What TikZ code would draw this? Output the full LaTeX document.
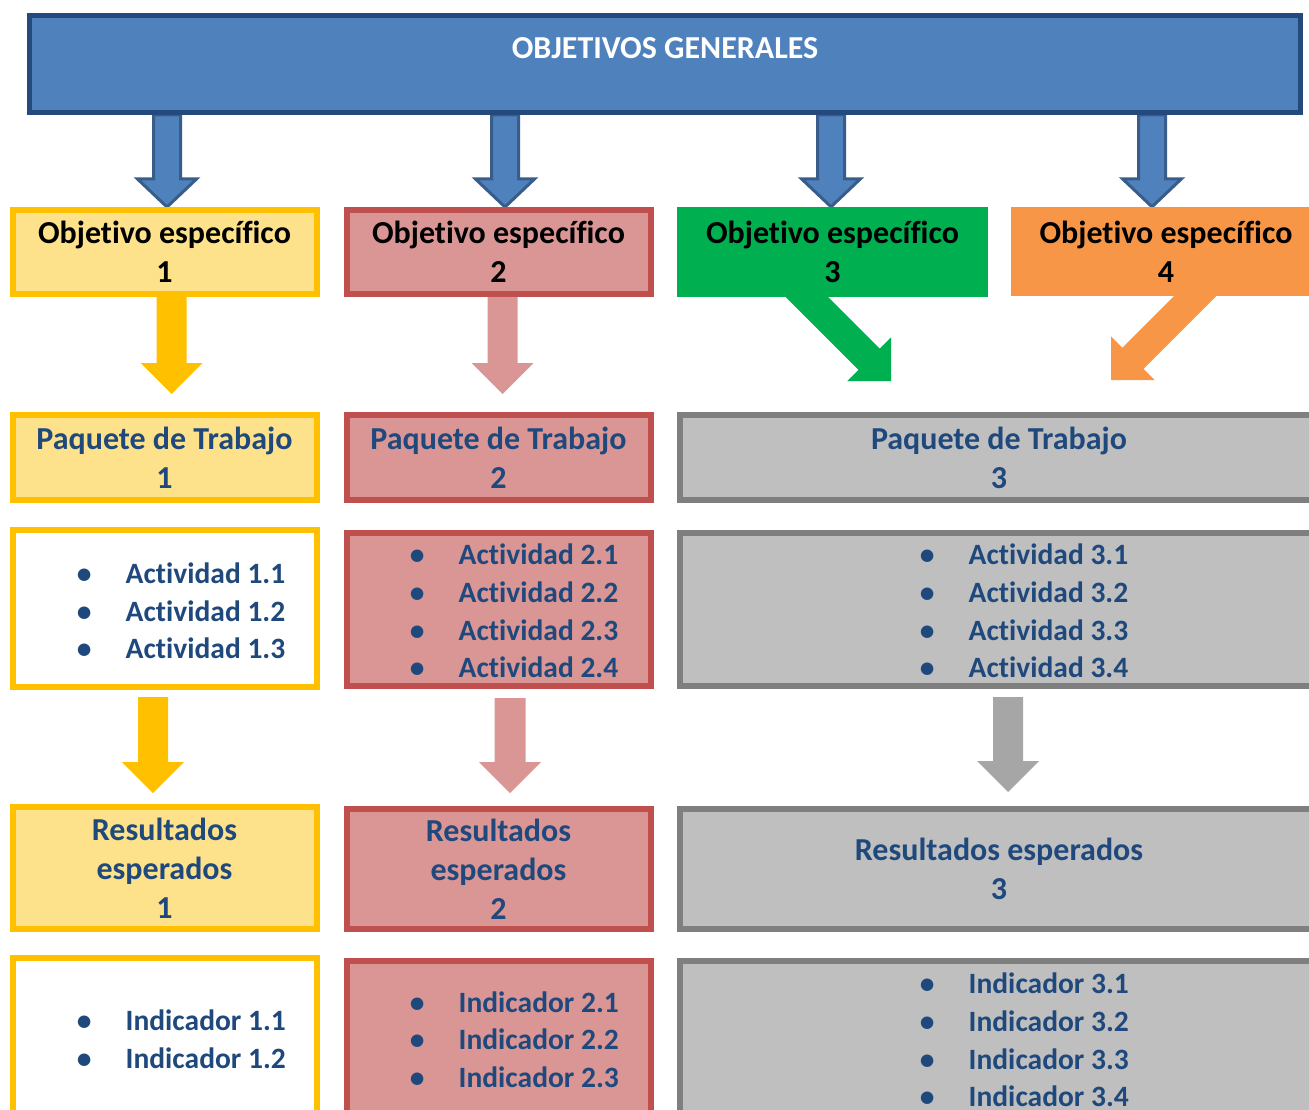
\documentclass[tikz,border=0pt]{standalone}
\usepackage{fontspec}
\setmainfont{Carlito}[Ligatures=NoCommon]
\usetikzlibrary{calc,backgrounds}

\definecolor{azul}{HTML}{4F81BD}
\definecolor{azulosc}{HTML}{244A7D}
\definecolor{azulbor}{HTML}{385D8A}
\definecolor{amarillo}{HTML}{FFC000}
\definecolor{amarclaro}{HTML}{FDE28B}
\definecolor{rojo}{HTML}{C0504D}
\definecolor{rojoclaro}{HTML}{D99694}
\definecolor{gris}{HTML}{BFBFBF}
\definecolor{grisosc}{HTML}{7F7F7F}
\definecolor{grisflecha}{HTML}{A6A6A6}
\definecolor{verde}{HTML}{00B050}
\definecolor{naranja}{HTML}{F79646}
\definecolor{texto}{HTML}{1F497D}

\tikzset{
  caja/.style={rectangle, inner sep=2pt, align=center, text=texto,
    font=\bfseries\fontsize{32}{39}\selectfont},
  amar/.style={caja, line width=6pt, draw=amarillo, fill=amarclaro},
  roja/.style={caja, line width=6pt, draw=rojo, fill=rojoclaro},
  grisc/.style={caja, line width=6pt, draw=grisosc, fill=gris},
  lista/.style={inner sep=0pt, align=left, anchor=west, text=texto,
    font=\bfseries\fontsize{29.5}{37.7}\selectfont},
  fazul/.style={fill=azul, draw=azulbor, line width=3pt},
}
\newcommand{\pto}{\makebox[14pt][c]{•}\hspace{34.5pt}}

% flecha de bloque: estilo, inicio, punta, medio ancho, media cabeza, largo cabeza
\newcommand{\flecha}[6]{%
  \coordinate (hb) at ($(#3)!#6!(#2)$);
  \path[#1] ($(#2)!#4!90:(#3)$) -- ($(hb)!#4!90:(#3)$) -- ($(hb)!#5!90:(#3)$) -- (#3)
    -- ($(hb)!#5!-90:(#3)$) -- ($(hb)!#4!-90:(#3)$) -- ($(#2)!#4!-90:(#3)$) -- cycle;}

\begin{document}
\begin{tikzpicture}[x=1pt, y=-1pt]
  \useasboundingbox (0,0) rectangle (1309,1110);
  \clip (0,0) rectangle (1309,1110);

  \node[caja, line width=5pt, draw=azulosc, fill=azul, minimum width=1271pt, minimum height=97pt] (gen) at (665,64) {};
  \node[text=white, font=\bfseries\fontsize{32}{38}\selectfont] (titulo) at (665,48) {OBJETIVOS GENERALES};

  % objetivos especificos
  \node[amar, text=black, minimum width=304pt, minimum height=84pt] (o1) at (164.5,252) {Objetivo específico\\1};
  \node[roja, text=black, minimum width=304pt, minimum height=84pt] (o2) at (498.5,252) {Objetivo específico\\2};
  \node[caja, text=black, fill=verde, minimum width=311pt, minimum height=90pt] (o3) at (832.5,252) {Objetivo específico\\3};
  \node[caja, text=black, fill=naranja, minimum width=310pt, minimum height=89pt] (o4) at (1166,251.5) {Objetivo específico\\4};

  % paquetes de trabajo
  \node[amar, minimum width=304pt, minimum height=85pt] (p1) at (164.5,457.5) {Paquete de Trabajo\\1};
  \node[roja, minimum width=304pt, minimum height=85pt] (p2) at (498.5,457.5) {Paquete de Trabajo\\2};
  \node[grisc, minimum width=638pt, minimum height=85pt] (p3) at (999,457.5) {Paquete de Trabajo\\3};

  % actividades
  \node[amar, fill=white, minimum width=304pt, minimum height=157pt] (a1) at (164.5,608) {};
  \node[roja, minimum width=304pt, minimum height=153pt] (a2) at (498.5,609.5) {};
  \node[grisc, minimum width=638pt, minimum height=153pt] (a3) at (999,609.5) {};
  \node[lista] (la1) at (77,611) {\pto Actividad 1.1\\\pto Actividad 1.2\\\pto Actividad 1.3};
  \node[lista] (la2) at (410,611) {\pto Actividad 2.1\\\pto Actividad 2.2\\\pto Actividad 2.3\\\pto Actividad 2.4};
  \node[lista] (la3) at (920,611) {\pto Actividad 3.1\\\pto Actividad 3.2\\\pto Actividad 3.3\\\pto Actividad 3.4};

  % resultados
  \node[amar, minimum width=304pt, minimum height=122pt] (r1) at (164.5,868) {Resultados\\esperados\\1};
  \node[roja, minimum width=304pt, minimum height=120pt] (r2) at (498.5,869) {Resultados\\esperados\\2};
  \node[grisc, minimum width=638pt, minimum height=120pt] (r3) at (999,869) {Resultados esperados\\3};

  % indicadores
  \node[amar, fill=white, minimum width=304pt, minimum height=164pt] (i1) at (164.5,1040) {};
  \node[roja, minimum width=304pt, minimum height=161pt] (i2) at (498.5,1041.5) {};
  \node[grisc, minimum width=638pt, minimum height=161pt] (i3) at (999,1041.5) {};
  \node[lista] (li1) at (77,1039.5) {\pto Indicador 1.1\\\pto Indicador 1.2};
  \node[lista] (li2) at (410,1039.5) {\pto Indicador 2.1\\\pto Indicador 2.2\\\pto Indicador 2.3};
  \node[lista] (li3) at (920,1040) {\pto Indicador 3.1\\\pto Indicador 3.2\\\pto Indicador 3.3\\\pto Indicador 3.4};

  \begin{pgfonlayer}{background}
    \foreach \o/\dx in {o1/2.5, o2/6.5, o3/-1.5, o4/-14}{
      \coordinate (t\o) at ([xshift=\dx pt]\o.north);
      \coordinate (s\o) at (gen.south -| t\o);
      \flecha{fazul}{s\o}{t\o}{13.5pt}{29.5pt}{28pt}
    }
    % hacia los paquetes
    \coordinate (sy1) at ([xshift=7pt]o1.south);
    \coordinate (ty1) at ($(p1.north)+(7,-18)$);
    \flecha{fill=amarillo}{sy1}{ty1}{15pt}{31pt}{31pt}
    \coordinate (sr1) at ([xshift=4pt]o2.south);
    \coordinate (tr1) at ($(p2.north)+(4,-18)$);
    \flecha{fill=rojoclaro}{sr1}{tr1}{15pt}{31pt}{31pt}
    \coordinate (tv) at ($(o3.south)+(58.5,84)$);
    \coordinate (sv) at ($(tv)+(-120,-120)$);
    \flecha{fill=verde}{sv}{tv}{15pt}{31pt}{31pt}
    \coordinate (tn) at ($(o4.south)+(-55,84)$);
    \coordinate (sn) at ($(tn)+(120,-120)$);
    \flecha{fill=naranja}{sn}{tn}{15pt}{31pt}{31pt}
    % hacia los resultados
    \coordinate (sy2) at ($(a1.south)+(-11.5,7.5)$);
    \coordinate (ty2) at ($(r1.north)+(-11.5,-11)$);
    \flecha{fill=amarillo}{sy2}{ty2}{15pt}{31pt}{31pt}
    \coordinate (sr2) at ($(a2.south)+(11.5,9)$);
    \coordinate (tr2) at ($(r2.north)+(11.5,-13)$);
    \flecha{fill=rojoclaro}{sr2}{tr2}{15.5pt}{31pt}{31pt}
    \coordinate (sg2) at ($(a3.south)+(9,8)$);
    \coordinate (tg2) at ($(r3.north)+(9,-14)$);
    \flecha{fill=grisflecha}{sg2}{tg2}{15pt}{31pt}{31pt}
  \end{pgfonlayer}
\end{tikzpicture}
\end{document}
